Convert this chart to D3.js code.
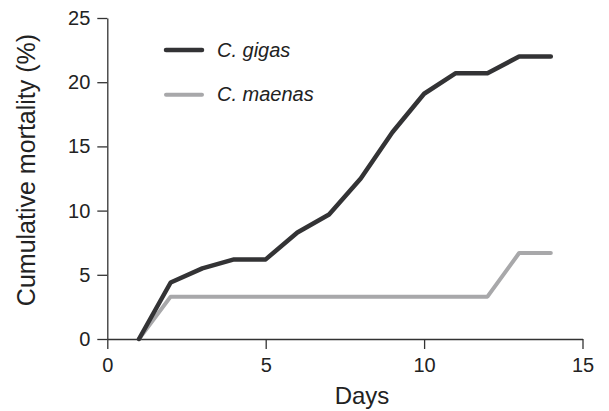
<!DOCTYPE html>
<html>
<head>
<meta charset="utf-8">
<script src="https://cdn.jsdelivr.net/npm/d3@7"></script>
<style>
  body { margin: 0; background: #fff; }
  svg { display: block; font-family: "Liberation Sans", Arial, sans-serif; }
</style>
</head>
<body>
<div id="chart"></div>
<script>
// data
var days = [1, 2, 3, 4, 5, 6, 7, 8, 9, 10, 11, 12, 13, 14];
var gigas = [0, 4.4, 5.5, 6.2, 6.2, 8.3, 9.7, 12.5, 16.1, 19.1, 20.7, 20.7, 22, 22];
var maenas = [0, 3.3, 3.3, 3.3, 3.3, 3.3, 3.3, 3.3, 3.3, 3.3, 3.3, 3.3, 6.7, 6.7];
var xTicks = [0, 5, 10, 15];
var yTicks = [0, 5, 10, 15, 20, 25];
var seriesNames = ["C. gigas", "C. maenas"];
var seriesColors = ["#333335", "#a8a8aa"];

var width = 609;
var height = 411;

var svg = d3.select("#chart").append("svg")
    .attr("width", width)
    .attr("height", height);

var x = d3.scaleLinear().domain([0, 15]).range([107.3, 582.5]);
var y = d3.scaleLinear().domain([0, 25]).range([339, 18]);

// axes
var xAxis = svg.append("g")
    .attr("transform", "translate(0," + y(0) + ")")
    .call(d3.axisBottom(x).tickValues(xTicks).tickSize(10).tickSizeOuter(0).tickPadding(9));

var yAxis = svg.append("g")
    .attr("transform", "translate(" + x(0) + ",0)")
    .call(d3.axisLeft(y).tickValues(yTicks).tickSize(10).tickSizeOuter(0).tickPadding(7));

[xAxis, yAxis].forEach(function (g) {
    g.selectAll("path, line").attr("stroke", "#333").attr("stroke-width", 1.3);
    g.selectAll("text")
        .attr("fill", "#222")
        .style("font-size", "20px")
        .style("font-family", "'Liberation Sans', Arial, sans-serif");
});

// axis titles
svg.append("text")
    .attr("x", 362)
    .attr("y", 404)
    .attr("text-anchor", "middle")
    .style("font-size", "24px")
    .attr("fill", "#222")
    .text("Days");

svg.append("text")
    .attr("transform", "translate(35,170) rotate(-90)")
    .attr("text-anchor", "middle")
    .style("font-size", "25px")
    .attr("fill", "#222")
    .text("Cumulative mortality (%)");

// lines
var line = d3.line()
    .x(function (d) { return x(d[0]); })
    .y(function (d) { return y(d[1]); });

var allSeries = [maenas, gigas];
var allColors = [seriesColors[1], seriesColors[0]];
var allWidths = [4, 4.5];

allSeries.forEach(function (vals, i) {
    svg.append("path")
        .datum(days.map(function (d, j) { return [d, vals[j]]; }))
        .attr("fill", "none")
        .attr("stroke", allColors[i])
        .attr("stroke-width", allWidths[i])
        .attr("stroke-linejoin", "round")
        .attr("stroke-linecap", "round")
        .attr("d", line);
});

// legend
var legend = svg.append("g");
seriesNames.forEach(function (name, i) {
    var ly = 50 + i * 44.7;
    legend.append("line")
        .attr("x1", 166).attr("x2", 202)
        .attr("y1", ly).attr("y2", ly)
        .attr("stroke", seriesColors[i])
        .attr("stroke-width", i === 0 ? 4.5 : 4)
        .attr("stroke-linecap", "round");
    legend.append("text")
        .attr("x", 217)
        .attr("y", ly + 6.5)
        .style("font-size", "20px")
        .style("font-style", "italic")
        .attr("fill", "#222")
        .text(name);
});
</script>
</body>
</html>
